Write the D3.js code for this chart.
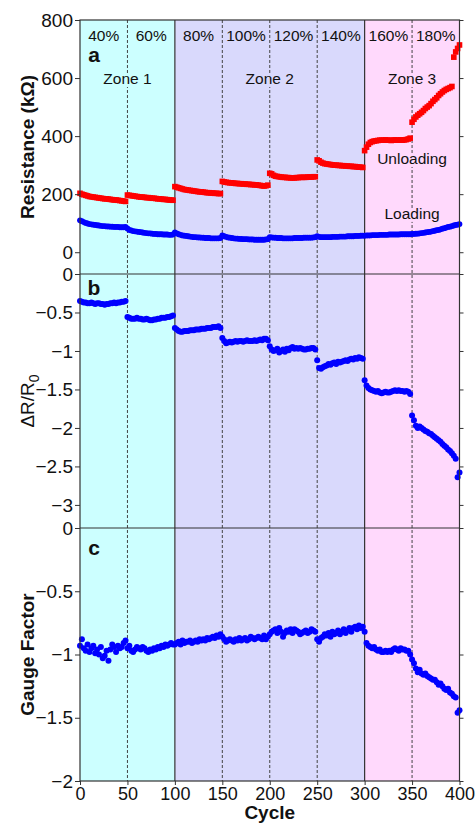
<!DOCTYPE html>
<html><head><meta charset="utf-8">
<script src="https://cdn.jsdelivr.net/npm/d3@7/dist/d3.min.js"></script>
<style>
body{margin:0;background:#fff}
svg{display:block}
text{font-family:"Liberation Sans",Arial,Helvetica,sans-serif}
</style>
</head><body>
<svg id="chart" width="476" height="824"></svg>
<script>
// ---------------- DATA ----------------
const cycles = d3.range(0, 401, 2);
const strainLabels = ["40%","60%","80%","100%","120%","140%","160%","180%"];
const strainStarts = [0,50,100,150,200,250,300,350];
const zones = [{name:"Zone 1", from:0, to:100}, {name:"Zone 2", from:100, to:300}, {name:"Zone 3", from:300, to:400}];
const zoneColors = ["#ccffff", "#d9d9fc", "#ffd9fc"];
const solidLines = [100, 300];
const dashedLines = [50, 150, 200, 250, 350];
const ticksA = [0, 200, 400, 600, 800];
const ticksB = [0, -0.5, -1, -1.5, -2, -2.5, -3];
const ticksC = [0, -0.5, -1, -1.5, -2];
const ticksX = [0, 50, 100, 150, 200, 250, 300, 350, 400];

const unloading = [
 203,200,198,196,194,192,191,190,189,188,187,186,185,184,184,183,182,181,180,180,179,178,177,176,175,
 197,196,195,194,193,192,191,190,190,189,188,188,187,186,186,185,184,184,183,182,182,181,180,180,179,
 226,224,222,220,218,216,215,214,213,212,211,210,209,208,208,207,206,205,205,204,204,203,203,202,202,
 244,242,241,240,239,239,238,237,237,236,236,235,235,234,234,233,233,232,232,231,230,229,228,229,231,
 272,270,265,262,261,260,259,258,258,257,257,256,256,256,257,257,258,258,258,258,259,259,259,260,260,
 318,315,310,307,305,304,303,302,301,300,300,299,299,298,298,297,297,296,296,295,295,294,293,293,292,
 350,362,372,378,381,383,384,385,386,386,386,387,386,386,385,386,387,386,386,387,386,387,388,390,393,
 448,458,466,472,477,482,488,495,500,505,512,520,526,532,540,546,552,557,561,564,567,571,672,690,702,
 714];
const loading = [
 110,107,104,101,99,97,96,95,94,93,92,91,90,90,89,89,88,88,87,87,87,86,86,86,87,
 82,77,75,73,72,71,70,69,68,67,66,65,65,64,63,63,62,62,62,61,61,61,60,60,61,
 68,65,62,60,58,57,56,55,54,53,52,52,51,51,50,50,49,49,49,48,48,48,48,48,49,
 58,55,53,51,50,49,48,47,47,46,46,45,45,45,44,44,44,43,43,43,43,43,43,44,45,
 52,51,50,50,49,49,49,48,48,48,48,48,48,49,49,49,49,49,50,50,50,50,50,51,52,
 55,53,52,52,52,52,52,52,53,53,53,53,54,54,54,54,55,55,55,55,56,56,56,57,57,
 57,58,58,58,59,59,59,59,60,60,60,60,60,61,61,61,61,61,61,62,62,62,62,62,62,
 63,63,64,64,65,66,67,68,69,70,71,73,74,76,77,79,81,83,85,87,88,90,92,94,95,
 97];
const deltaR = [
 -0.35,-0.36,-0.37,-0.37,-0.38,-0.38,-0.37,-0.38,-0.39,-0.38,-0.38,-0.39,-0.39,-0.40,-0.39,-0.39,-0.38,-0.38,-0.37,-0.38,-0.37,-0.37,-0.36,-0.36,-0.35,
 -0.56,-0.57,-0.58,-0.58,-0.58,-0.57,-0.58,-0.58,-0.59,-0.59,-0.58,-0.59,-0.60,-0.60,-0.59,-0.59,-0.58,-0.58,-0.57,-0.57,-0.57,-0.56,-0.56,-0.55,-0.54,
 -0.70,-0.72,-0.74,-0.75,-0.75,-0.74,-0.74,-0.74,-0.73,-0.73,-0.73,-0.72,-0.72,-0.72,-0.71,-0.71,-0.71,-0.70,-0.70,-0.70,-0.69,-0.69,-0.69,-0.68,-0.70,
 -0.83,-0.87,-0.90,-0.89,-0.88,-0.89,-0.88,-0.87,-0.88,-0.87,-0.87,-0.88,-0.87,-0.86,-0.87,-0.87,-0.87,-0.86,-0.87,-0.86,-0.85,-0.86,-0.84,-0.84,-0.86,
 -0.94,-0.98,-1.00,-0.99,-0.97,-1.02,-1.00,-0.98,-1.01,-0.97,-0.99,-0.96,-0.95,-0.97,-0.96,-0.97,-0.96,-0.97,-0.98,-0.98,-0.97,-0.97,-0.96,-0.96,-0.98,
 -1.12,-1.22,-1.23,-1.21,-1.20,-1.19,-1.17,-1.18,-1.16,-1.15,-1.17,-1.14,-1.15,-1.14,-1.13,-1.12,-1.13,-1.11,-1.10,-1.11,-1.09,-1.10,-1.08,-1.09,-1.10,
 -1.38,-1.45,-1.48,-1.50,-1.51,-1.52,-1.53,-1.52,-1.54,-1.55,-1.54,-1.53,-1.54,-1.54,-1.53,-1.52,-1.51,-1.52,-1.51,-1.52,-1.52,-1.53,-1.52,-1.53,-1.56,
 -1.84,-1.90,-1.97,-2.00,-1.98,-2.00,-2.02,-2.04,-2.05,-2.07,-2.08,-2.10,-2.12,-2.14,-2.16,-2.18,-2.21,-2.23,-2.25,-2.28,-2.30,-2.33,-2.36,-2.40,-2.64,
 -2.58];
const gaugeFactor = [
 -0.93,-0.88,-0.95,-0.97,-0.92,-0.98,-0.95,-0.93,-0.99,-0.96,-1.00,-0.94,-1.03,-1.01,-0.97,-1.05,-0.96,-0.92,-0.94,-0.98,-0.93,-0.95,-0.94,-0.91,-0.89,
 -0.95,-0.93,-0.97,-0.98,-0.96,-0.94,-0.95,-0.96,-0.94,-0.95,-0.97,-0.98,-0.96,-0.97,-0.95,-0.96,-0.94,-0.95,-0.93,-0.94,-0.92,-0.93,-0.92,-0.91,-0.92,
 -0.92,-0.91,-0.90,-0.92,-0.89,-0.91,-0.90,-0.90,-0.89,-0.91,-0.90,-0.89,-0.90,-0.88,-0.89,-0.88,-0.89,-0.87,-0.88,-0.87,-0.86,-0.87,-0.85,-0.86,-0.84,
 -0.86,-0.88,-0.90,-0.89,-0.88,-0.89,-0.90,-0.88,-0.89,-0.87,-0.89,-0.88,-0.87,-0.89,-0.88,-0.86,-0.87,-0.88,-0.87,-0.86,-0.87,-0.88,-0.85,-0.88,-0.86,
 -0.84,-0.82,-0.81,-0.80,-0.83,-0.79,-0.82,-0.86,-0.83,-0.81,-0.82,-0.80,-0.83,-0.80,-0.81,-0.82,-0.84,-0.83,-0.82,-0.81,-0.83,-0.82,-0.80,-0.81,-0.82,
 -0.88,-0.90,-0.87,-0.86,-0.84,-0.85,-0.83,-0.86,-0.82,-0.84,-0.83,-0.81,-0.84,-0.82,-0.80,-0.83,-0.81,-0.79,-0.82,-0.79,-0.78,-0.80,-0.77,-0.79,-0.78,
 -0.82,-0.91,-0.93,-0.94,-0.95,-0.94,-0.96,-0.97,-0.96,-0.98,-0.98,-0.97,-0.98,-0.97,-0.98,-0.96,-0.95,-0.96,-0.97,-0.95,-0.96,-0.96,-0.97,-0.97,-1.00,
 -1.04,-1.07,-1.11,-1.14,-1.12,-1.15,-1.16,-1.15,-1.17,-1.18,-1.19,-1.20,-1.20,-1.22,-1.24,-1.23,-1.25,-1.27,-1.28,-1.27,-1.30,-1.31,-1.33,-1.34,-1.46,
 -1.44];

// ---------------- LAYOUT ----------------
const svg = d3.select("#chart");
const L = 80, R = 459.5;
const panels = [
  {top:20, bottom:274, domain:[-75, 800], ticks:ticksA, label:"Resistance (kΩ)", letter:"a", letterY:62, bold:true},
  {top:274, bottom:528, domain:[-3.3, 0], ticks:ticksB, label:"ΔR/R0", letter:"b", letterY:295, bold:false},
  {top:528, bottom:781, domain:[-2, 0], ticks:ticksC, label:"Gauge Factor", letter:"c", letterY:555, bold:true}
];
const x = d3.scaleLinear().domain([0, 400]).range([L, R]);
panels.forEach(p => p.y = d3.scaleLinear().domain(p.domain).range([p.bottom, p.top]));
const TOP = 20, BOT = 781;

// zone backgrounds
svg.append("g").selectAll("rect").data(zones).join("rect")
  .attr("x", d => x(d.from)).attr("width", d => x(d.to) - x(d.from))
  .attr("y", TOP).attr("height", BOT - TOP)
  .attr("fill", (d, i) => zoneColors[i]);

// vertical separators
svg.append("g").selectAll("line").data(dashedLines).join("line")
  .attr("x1", d => x(d)).attr("x2", d => x(d)).attr("y1", TOP).attr("y2", BOT)
  .attr("stroke", "#444").attr("stroke-width", 1).attr("stroke-dasharray", "3,2");
svg.append("g").selectAll("line").data(solidLines).join("line")
  .attr("x1", d => x(d)).attr("x2", d => x(d)).attr("y1", TOP).attr("y2", BOT)
  .attr("stroke", "#333").attr("stroke-width", 1.2);

// labels in panel a (with halo to hide separator lines)
const lab = svg.append("g").attr("font-size", 15.5).attr("text-anchor", "middle").attr("fill", "#111");
strainLabels.forEach((s, i) => {
  lab.append("text").attr("x", x(strainStarts[i] + 25)).attr("y", 41).text(s);
});
zones.forEach((z, i) => {
  const c = (z.from + z.to) / 2;
  lab.append("text").attr("x", x(c)).attr("y", 84).text(z.name)
    .attr("stroke", zoneColors[i]).attr("stroke-width", 6).attr("paint-order", "stroke");
});
lab.append("text").attr("x", x(350)).attr("y", 164).text("Unloading")
  .attr("stroke", zoneColors[2]).attr("stroke-width", 6).attr("paint-order", "stroke");
lab.append("text").attr("x", x(350)).attr("y", 219).text("Loading")
  .attr("stroke", zoneColors[2]).attr("stroke-width", 6).attr("paint-order", "stroke");

// data
const pa = panels[0], pb = panels[1], pc = panels[2];
const ok = (arr) => cycles.map((c, i) => [c, arr[i]]).filter(d => d[1] !== undefined);
svg.append("g").selectAll("rect").data(ok(unloading)).join("rect")
  .attr("x", d => x(d[0]) - 2.8).attr("y", d => pa.y(d[1]) - 2.8)
  .attr("width", 5.6).attr("height", 5.6).attr("fill", "#ff0000");
svg.append("g").selectAll("circle").data(ok(loading)).join("circle")
  .attr("cx", d => x(d[0])).attr("cy", d => pa.y(d[1])).attr("r", 2.9).attr("fill", "#0000ff");
svg.append("g").selectAll("circle").data(ok(deltaR)).join("circle")
  .attr("cx", d => x(d[0])).attr("cy", d => pb.y(d[1])).attr("r", 3).attr("fill", "#0000ff");
svg.append("g").selectAll("circle").data(ok(gaugeFactor)).join("circle")
  .attr("cx", d => x(d[0])).attr("cy", d => pc.y(d[1])).attr("r", 3).attr("fill", "#0000ff");

// axes
const fmt = d3.format("~g");
panels.forEach(p => {
  const gl = svg.append("g").attr("transform", `translate(${L},0)`)
    .call(d3.axisLeft(p.y).tickValues(p.ticks).tickSize(5).tickPadding(2).tickFormat(fmt));
  gl.select(".domain").remove();
  gl.selectAll("line").attr("stroke", "#333");
  gl.selectAll("text").attr("font-size", 19).attr("fill", "#111")
    .attr("font-family", '"Liberation Sans",Arial,sans-serif');
  const gr = svg.append("g").attr("transform", `translate(${R},0)`)
    .call(d3.axisRight(p.y).tickValues(p.ticks).tickSize(4).tickFormat(""));
  gr.select(".domain").remove();
  gr.selectAll("line").attr("stroke", "#333");
  // letter
  svg.append("text").attr("x", L + 14).attr("y", p.letterY).attr("text-anchor", "middle")
    .attr("font-size", 21).attr("font-weight", "bold").attr("fill", "#111").text(p.letter);
  // y label
  const cy = (p.top + p.bottom) / 2;
  const t = svg.append("text").attr("transform", `translate(34,${cy}) rotate(-90)`)
    .attr("text-anchor", "middle").attr("font-size", 19).attr("fill", "#111")
    .attr("font-weight", p.bold ? "bold" : "normal");
  if (p.letter === "b") {
    t.append("tspan").text("ΔR/R");
    t.append("tspan").attr("font-size", 14).attr("dy", 5).text("0");
  } else {
    t.text(p.label);
  }
});

// frame lines
const frame = svg.append("g").attr("stroke", "#333").attr("stroke-width", 1.2).attr("fill", "none");
frame.append("rect").attr("x", L).attr("y", TOP).attr("width", R - L).attr("height", BOT - TOP);
[274, 528].forEach(yv => frame.append("line").attr("x1", L).attr("x2", R).attr("y1", yv).attr("y2", yv));

// x axis
const gx = svg.append("g").attr("transform", `translate(0,${BOT})`)
  .call(d3.axisBottom(x).tickValues(ticksX).tickSize(4).tickPadding(2).tickFormat(d3.format("d")));
gx.select(".domain").remove();
gx.selectAll("line").attr("stroke", "#333");
gx.selectAll("text").attr("font-size", 18).attr("fill", "#111")
  .attr("font-family", '"Liberation Sans",Arial,sans-serif');
svg.append("text").attr("x", (L + R) / 2).attr("y", 819).attr("text-anchor", "middle")
  .attr("font-size", 19).attr("font-weight", "bold").attr("fill", "#111").text("Cycle");
</script>
</body></html>
